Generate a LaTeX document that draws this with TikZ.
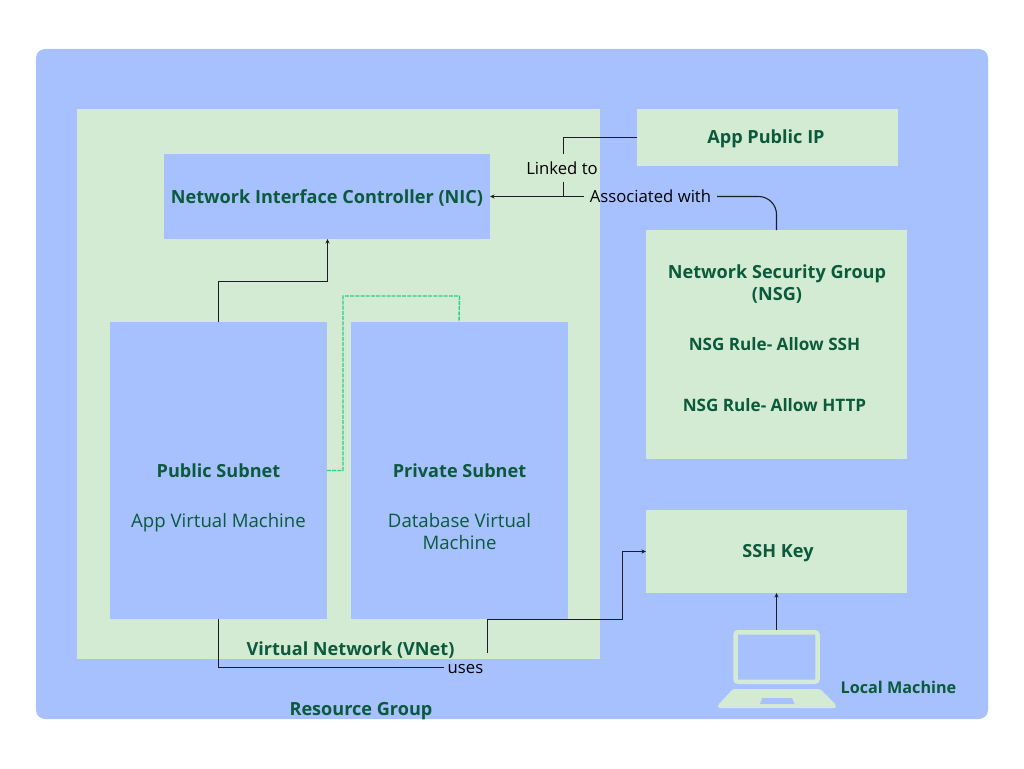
\documentclass[tikz,border=0pt]{standalone}
\usepackage{fontspec}
\setmainfont{Open Sans}
\usetikzlibrary{arrows.meta,calc}
\definecolor{bluefill}{HTML}{A6C1FE}
\definecolor{greenfill}{HTML}{D4EBD3}
\definecolor{deepgreen}{HTML}{0B5A3C}
\definecolor{dashgreen}{HTML}{2ACF85}
\definecolor{linkdark}{HTML}{1C1C24}
\tikzset{
  region/.style={inner sep=0pt,outer sep=0pt,text=deepgreen,align=center},
  bluebox/.style={region,fill=bluefill},
  greenbox/.style={region,fill=greenfill},
  head/.style={font=\fontsize{18.1}{22}\selectfont\bfseries,text=deepgreen,inner sep=0pt,align=center},
  subhead/.style={font=\fontsize{17.1}{21}\selectfont\bfseries,text=deepgreen,inner sep=0pt,align=center},
  smallhead/.style={font=\fontsize{16.2}{21}\selectfont\bfseries,text=deepgreen,inner sep=0pt,align=center},
  plain/.style={font=\fontsize{18.6}{22}\selectfont,text=deepgreen,inner sep=0pt,align=center},
  lbl/.style={font=\fontsize{16.7}{20}\selectfont,text=black,inner sep=0pt,outer sep=0pt},
  link/.style={draw=linkdark,line width=1.1pt},
  tip/.style={-{Stealth[length=4.5pt,width=4pt]}},
  pal/.style={draw=dashgreen,line width=1.4pt,dash pattern=on 4pt off 1.2pt},
}
\begin{document}
\begin{tikzpicture}[x=1pt,y=-1pt]
\useasboundingbox (0,0) rectangle (1024,768);
\fill[white] (0,0) rectangle (1024,768);
% containers
\node[bluebox,rounded corners=9pt,minimum width=952pt,minimum height=670pt] (rg) at (512,384) {};
\node[greenbox,minimum width=523pt,minimum height=550pt] (vnet) at (338.5,384) {};
\node[bluebox,minimum width=326pt,minimum height=85pt] (nic) at (327,196.5) {};
\node[bluebox,minimum width=217pt,minimum height=297pt] (pub) at (218.5,470.5) {};
\node[bluebox,minimum width=217pt,minimum height=297pt] (priv) at (459.5,470.5) {};
\node[greenbox,minimum width=261pt,minimum height=57pt] (ip) at (767.5,137.5) {};
\node[greenbox,minimum width=261pt,minimum height=229pt] (nsg) at (776.5,344.5) {};
\node[greenbox,minimum width=261pt,minimum height=83pt] (ssh) at (776.5,551.5) {};
% laptop
\node[draw=greenfill,line width=4.5pt,rounded corners=2.5pt,inner sep=0pt,outer sep=2.25pt,minimum width=82pt,minimum height=49.5pt] (laptop) at (776.5,657) {};
\coordinate (baseA) at (733,689);
\coordinate (baseB) at (820,689);
\coordinate (baseC) at (836,705);
\coordinate (baseD) at (718,705);
\fill[greenfill,rounded corners=1.5pt] (baseA) -- (baseB) -- (baseC) -- (836,708) -- (718,708) -- (baseD) -- cycle;
\fill[bluefill] (762,698) -- (792,698) -- (794.5,704) -- (760,704) -- cycle;
% texts
\node[head] (nictext) at (327,198.5) {Network Interface Controller (NIC)};
\node[head] (iptext) at (766,139) {App Public IP};
\node[head] (nsgtext) at (777,284) {Network Security Group\\(NSG)};
\node[subhead] (rule1) at (774.5,344) {NSG Rule- Allow SSH};
\node[subhead] (rule2) at (774.5,405) {NSG Rule- Allow HTTP};
\node[head] (sshtext) at (778,553.5) {SSH Key};
\node[head] (pubtext) at (218.5,471) {Public Subnet};
\node[plain] (pubvm) at (218.5,523) {App Virtual Machine};
\node[head] (privtext) at (459.5,471) {Private Subnet};
\node[plain] (privvm) at (459.5,532) {Database Virtual\\Machine};
\node[head] (vnettext) at (350.5,650.5) {Virtual Network (VNet)};
\node[head] (rgtext) at (361,711.5) {Resource Group};
\node[smallhead] (localtext) at (898.5,687) {Local Machine};
% connector labels
\node[lbl,minimum width=72pt,minimum height=28pt] (linked) at (563.5,167.5) {\hspace{-3pt}\smash{\raisebox{-6.5pt}{Linked to}}};
\node[lbl,minimum width=133pt,minimum height=20pt] (assoc) at (650.5,196.5) {\smash{\raisebox{-6.2pt}{Associated with}}};
\node[lbl,minimum width=44pt,minimum height=29pt] (uses) at (465.5,667.5) {\smash{\raisebox{-5.8pt}{uses}}};
% connectors
\draw[link,tip] (pub.north) -- ++(0,-40.5) -| ($(pub.north east |- nic.south)+(0.5,0)$);
\draw[pal] (pub.east) -- ++(16,0) |- ($(priv.north)+(0,-26)$) -- ($(priv.north)+(-0.5,0)$);
\draw[link] (ip.west) -| (linked.north);
\draw[link] (linked.south) -- (linked.south |- assoc.west);
\draw[link,tip] (assoc.west) -- (nic.east);
\draw[link,rounded corners=18pt] (nsg.north) |- (assoc.east);
\draw[link] (pub.south) |- (uses.west);
\draw[link,tip] (uses.north east) |- ($(pub.south)+(269,0.5)$) -- ++(135,0) |- (ssh.west);
\draw[link,tip] (laptop.north) -- (ssh.south);
\end{tikzpicture}
\end{document}
